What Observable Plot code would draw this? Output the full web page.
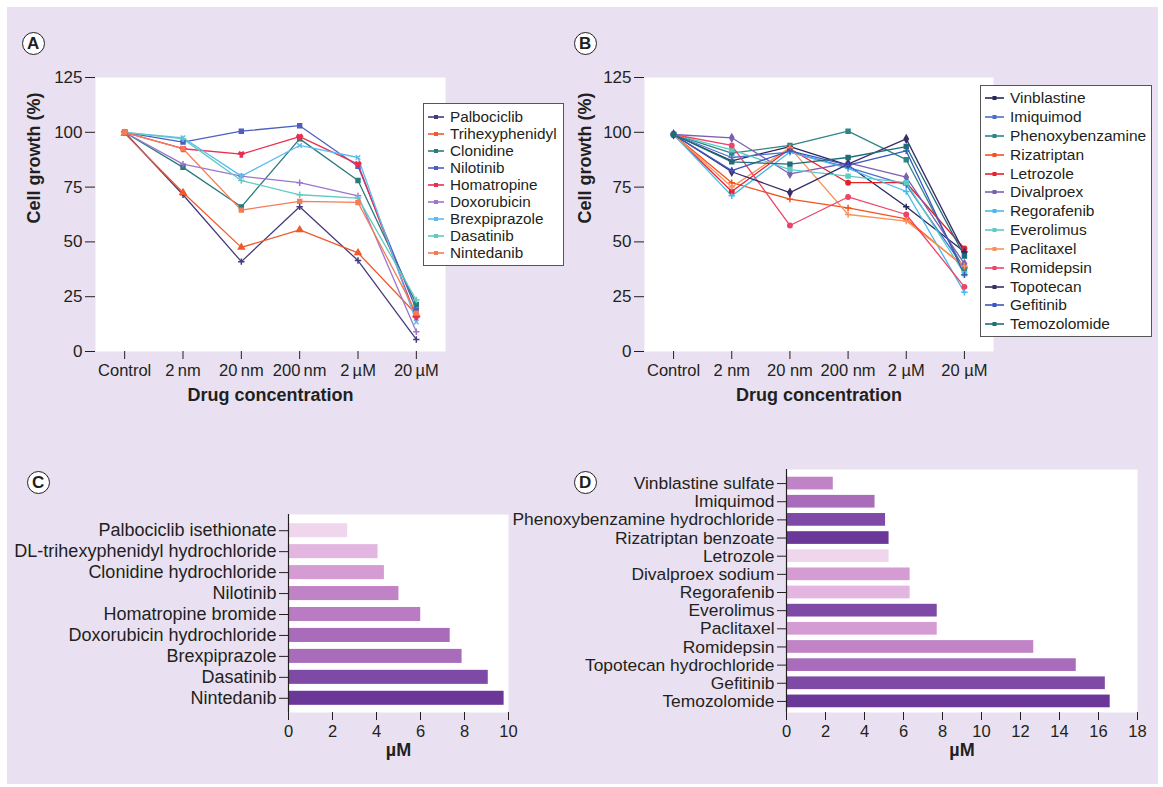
<!DOCTYPE html>
<html><head><meta charset="utf-8">
<script src="https://cdn.jsdelivr.net/npm/d3@7"></script>
<script src="https://cdn.jsdelivr.net/npm/@observablehq/plot@0.6"></script>
<style>
body{margin:0;background:#fff;font-family:"Liberation Sans",Arial,sans-serif;width:1163px;height:787px;overflow:hidden;position:relative;}
#bg{position:absolute;left:7px;top:7px;width:1151px;height:777px;background:#e9e1f1;}
.panel{position:absolute;}
.panel svg{overflow:visible;}
.badge{position:absolute;width:21px;height:21px;border:1.8px solid #231f20;border-radius:50%;background:#fff;font-weight:bold;font-size:17px;text-align:center;line-height:21px;color:#231f20;}
.legend{position:absolute;background:#fff;border:1px solid #555;box-sizing:border-box;}
.legend .item{position:absolute;display:flex;align-items:center;white-space:nowrap;color:#231f20;}
.legend svg{margin-right:6px;}
</style></head><body>
<div id="bg"></div>
<script>
// ---------- DATA ----------
const concentrationsA = ["Control","2\u2009nm","20\u2009nm","200\u2009nm","2\u2009µM","20\u2009µM"];
const concentrationsB = ["Control","2 nm","20 nm","200 nm","2 µM","20 µM"];
const yTicks = [0,25,50,75,100,125];

const drugsA = ["Palbociclib","Trihexyphenidyl","Clonidine","Nilotinib","Homatropine","Doxorubicin","Brexpiprazole","Dasatinib","Nintedanib"];
const palbociclib     = [100, 71.5, 41, 66, 41.5, 5.5];
const trihexyphenidyl = [99.5, 72.5, 47.5, 55.5, 45, 17];
const clonidine       = [100, 84, 66, 97, 78, 21.5];
const nilotinib       = [100, 95.5, 100.5, 103, 84.5, 19];
const homatropine     = [100, 92.5, 90, 98, 85.5, 15.5];
const doxorubicin     = [100, 85.5, 80, 77, 71, 9];
const brexpiprazole   = [100, 97.5, 80, 94, 88.5, 13.5];
const dasatinib       = [100, 97, 78, 71.5, 70, 23.5];
const nintedanib      = [100, 92.5, 64.5, 68.5, 68, 17.5];
const seriesA = [palbociclib, trihexyphenidyl, clonidine, nilotinib, homatropine, doxorubicin, brexpiprazole, dasatinib, nintedanib];

const drugsB = ["Vinblastine","Imiquimod","Phenoxybenzamine","Rizatriptan","Letrozole","Divalproex","Regorafenib","Everolimus","Paclitaxel","Romidepsin","Topotecan","Gefitinib","Temozolomide"];
const vinblastine      = [99, 87, 93.5, 85, 66, 45.5];
const imiquimod        = [99, 88.5, 91, 84, 76, 38];
const phenoxybenzamine = [99, 90.5, 94, 100.5, 87.5, 37];
const rizatriptan      = [99, 77, 69.5, 65.5, 60.5, 38.5];
const letrozole        = [99, 73, 92.5, 77, 77, 47];
const divalproex       = [99, 97.5, 81, 86, 79.5, 40];
const regorafenib      = [99, 71, 91, 83.5, 73, 27];
const everolimus       = [99, 92, 83, 80, 77, 35.5];
const paclitaxel       = [99, 75, 93, 62.5, 59.5, 39];
const romidepsin       = [99, 94, 57.5, 70.5, 62.5, 29.5];
const topotecan        = [99, 82, 72.5, 85.5, 97, 45];
const gefitinib        = [99, 82.5, 91.5, 85, 91.5, 35];
const temozolomide     = [99, 86.5, 85.5, 88.5, 93.5, 43.5];
const seriesB = [vinblastine, imiquimod, phenoxybenzamine, rizatriptan, letrozole, divalproex, regorafenib, everolimus, paclitaxel, romidepsin, topotecan, gefitinib, temozolomide];

const drugsC = ["Palbociclib isethionate","DL-trihexyphenidyl hydrochloride","Clonidine hydrochloride","Nilotinib","Homatropine bromide","Doxorubicin hydrochloride","Brexpiprazole","Dasatinib","Nintedanib"];
const ic50C  = [2.69, 4.07, 4.36, 5.02, 6.01, 7.35, 7.89, 9.08, 9.8];
const xTicksC = [0,2,4,6,8,10];

const drugsD = ["Vinblastine sulfate","Imiquimod","Phenoxybenzamine hydrochloride","Rizatriptan benzoate","Letrozole","Divalproex sodium","Regorafenib","Everolimus","Paclitaxel","Romidepsin","Topotecan hydrochloride","Gefitinib","Temozolomide"];
const ic50D  = [2.4, 4.54, 5.08, 5.26, 5.26, 6.34, 6.34, 7.73, 7.73, 12.68, 14.86, 16.35, 16.6];
const xTicksD = [0,2,4,6,8,10,12,14,16,18];

// ---------- STYLES ----------
const colorsA = ["#463a7c","#f1592a","#2a7b7b","#4e5fc1","#ea2e4f","#9d76cc","#5bbdf0","#5fcbc3","#f47c55"];
const symbolsA = ["plus","triangle","square","square","wye","plus","times","plus","square"];
const colorsB = ["#27295c","#4a6fd0","#2f8585","#f4511e","#e8202a","#7d5fb2","#4ab8ec","#5ccbc4","#f8925a","#ee4466","#3b2d6a","#3a56c0","#1d6e78"];
const symbolsB = ["plus","plus","square","plus","circle","diamond","plus","square","plus","circle","diamond","plus","square"];
const barColorsC = ["#f0d6ec","#e2b6e0","#d59cd3","#c083c6","#b97cc3","#a96cba","#a96cba","#7e4aa6","#6b3799"];
const barColorsD = ["#c083c6","#a96cba","#7e4aa6","#6b3799","#f0d6ec","#d59cd3","#e2b6e0","#7e4aa6","#d59cd3","#c083c6","#a96cba","#7e4aa6","#6b3799"];
const FONT = "Liberation Sans, Arial, Helvetica, sans-serif";
const INK = "#231f20";

function place(node, left, top){
  const d = document.createElement("div");
  d.className = "panel"; d.style.left = left+"px"; d.style.top = top+"px";
  d.appendChild(node); document.body.appendChild(d);
}

function lineChart(concs, drugs, series, colors, symbols, o){
  const rows = [];
  drugs.forEach((d,i) => series[i].forEach((v,j) => rows.push({drug:d, conc:concs[j], value:v})));
  return Plot.plot({
    width:o.width, height:o.height, marginLeft:o.ml, marginRight:o.mr, marginTop:o.mt, marginBottom:o.mb,
    style:{fontFamily:FONT, fontSize:"16.5px", color:INK, background:"transparent"},
    x:{type:"point", domain:concs, padding:0.5, round:false},
    y:{domain:[0,125]},
    color:{domain:drugs, range:colors},
    symbol:{domain:drugs, range:symbols},
    marks:[
      Plot.frame({fill:"white", stroke:null}),
      Plot.line(rows, {x:"conc", y:"value", z:"drug", stroke:"drug", strokeWidth:1.3}),
      Plot.dot(rows, {x:"conc", y:"value", symbol:"drug", fill:"drug", stroke:"drug", r:2.2}),
      Plot.axisY({ticks:yTicks, tickSize:10, tickPadding:3, fontSize:17, line:true, label:null, stroke:INK}),
      Plot.axisX({tickSize:8, tickPadding:5, line:true, label:null, stroke:INK}),
      Plot.text(["Drug concentration"], {text:d=>d, frameAnchor:"bottom", dy:49, fontWeight:"bold", fontSize:18, fill:INK}),
      Plot.text(["Cell growth (%)"], {text:d=>d, frameAnchor:"left", dx:o.titleDx, dy:9, rotate:-90, fontWeight:"bold", fontSize:18, fill:INK})
    ]
  });
}

function barChart(names, values, colors, ticks, o){
  const rows = names.map((n,i) => ({name:n, value:values[i]}));
  return Plot.plot({
    width:o.width, height:o.height, marginLeft:o.ml, marginRight:o.mr, marginTop:o.mt, marginBottom:o.mb,
    style:{fontFamily:FONT, fontSize:"16.5px", color:INK, background:"transparent"},
    x:{domain:[ticks[0], ticks[ticks.length-1]]},
    y:{domain:names, paddingInner:o.pi, paddingOuter:o.po, round:false, insetTop:o.insetTop, insetBottom:o.insetBottom},
    color:{domain:names, range:colors},
    marks:[
      Plot.frame({fill:"white", stroke:null}),
      Plot.barX(rows, {x:"value", y:"name", fill:"name"}),
      Plot.ruleX([ticks[0]], {stroke:INK, strokeWidth:1.2}),
      Plot.axisX({ticks:ticks, tickSize:8, tickPadding:5, line:true, label:null, stroke:INK, fontSize:16.5}),
      Plot.axisY({tickSize:9, tickPadding:3, label:null, stroke:INK, fontSize:o.labelSize}),
      Plot.text(["µM"], {text:d=>d, frameAnchor:"bottom", dy:43, fontWeight:"bold", fontSize:18, fill:INK})
    ]
  });
}

function legend(drugs, colors, o){
  const box = document.createElement("div");
  box.className = "legend";
  Object.assign(box.style, {left:o.left+"px", top:o.top+"px", width:o.width+"px", height:o.height+"px"});
  drugs.forEach((d,i) => {
    const it = document.createElement("div");
    it.className = "item";
    Object.assign(it.style, {left:o.padLeft+"px", top:(o.first + i*o.step - 10)+"px", height:"20px", fontSize:o.fontSize+"px"});
    const sw = d3.create("svg").attr("width", o.sw).attr("height", 10);
    sw.append("line").attr("x1",0).attr("x2",o.sw).attr("y1",5).attr("y2",5).attr("stroke",colors[i]).attr("stroke-width",1.6);
    sw.append("rect").attr("x",o.sw/2-2).attr("y",3).attr("width",4).attr("height",4).attr("fill",colors[i]);
    it.appendChild(sw.node());
    const t = document.createElement("span"); t.textContent = d; it.appendChild(t);
    box.appendChild(it);
  });
  document.body.appendChild(box);
}

function badge(letter, cx, cy){
  const b = document.createElement("div");
  b.className = "badge"; b.textContent = letter;
  b.style.left = (cx-12.3)+"px"; b.style.top = (cy-12.3)+"px";
  document.body.appendChild(b);
}

// Panel A
place(lineChart(concentrationsA, drugsA, seriesA, colorsA, symbolsA,
  {width:430, height:350, ml:75, mr:5, mt:17, mb:59, titleDx:-61}), 20, 60);
legend(drugsA, colorsA, {left:423, top:103, width:141, height:163, padLeft:4, first:12.5, step:17.08, fontSize:15.3, sw:16});

// Panel B
place(lineChart(concentrationsB, drugsB, seriesB, colorsB, symbolsB,
  {width:430, height:350, ml:74, mr:7, mt:17, mb:59, titleDx:-59}), 570, 60);
legend(drugsB, colorsB, {left:980, top:85, width:172, height:252, padLeft:4, first:12.3, step:18.83, fontSize:15.5, sw:19});

// Panel C
place(barChart(drugsC, ic50C, barColorsC, xTicksC,
  {width:508, height:290, ml:268, mr:20, mt:19, mb:73, pi:0.33, po:0.2, insetTop:5, insetBottom:3, labelSize:18}), 20, 495);

// Panel D
place(barChart(drugsD, ic50D, barColorsD, xTicksD,
  {width:667, height:335, ml:296, mr:20, mt:19, mb:73, pi:0.3, po:0.15, insetTop:5, insetBottom:2, labelSize:17.4}), 490, 450);

badge("A", 34, 44);
badge("B", 586, 44);
badge("C", 39, 483);
badge("D", 586, 483);
</script>
</body></html>
